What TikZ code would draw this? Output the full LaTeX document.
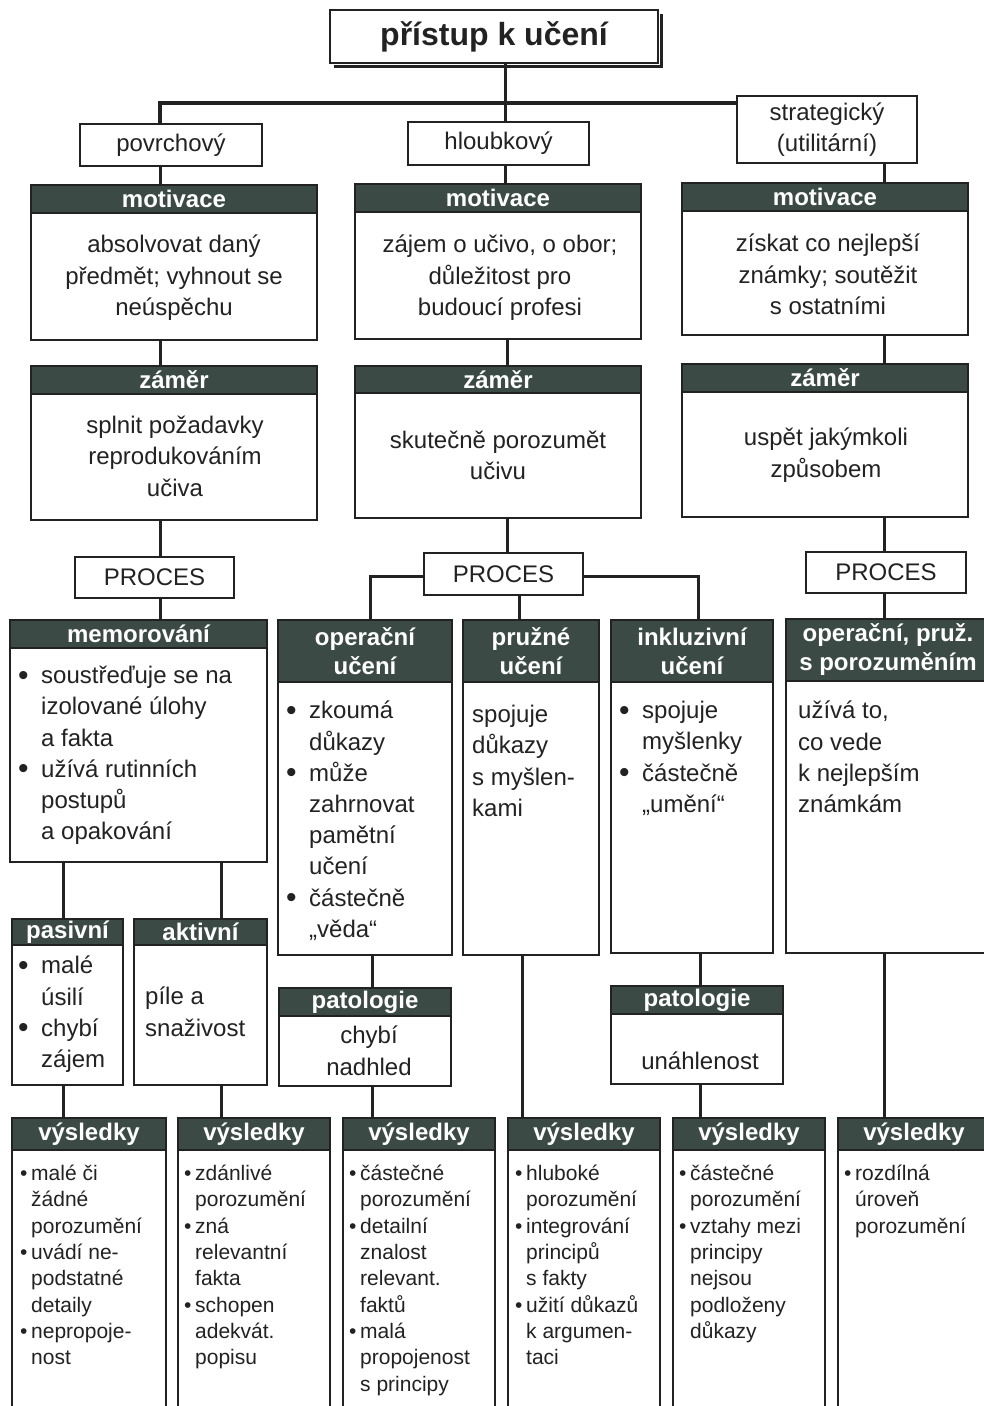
\documentclass[tikz,border=0pt]{standalone}
\usepackage{fontspec}
\setmainfont{Liberation Sans}
\usetikzlibrary{calc}
\definecolor{ink}{HTML}{222222}
\definecolor{hdrc}{HTML}{3B4A45}
\newcommand{\bulx}{\makebox[23pt][l]{\raisebox{-1.5pt}{\fontsize{30}{31}\selectfont\textbullet}}}
\newcommand{\indx}{\hspace*{23pt}}
\newcommand{\sbulx}{\makebox[11pt][l]{\textbullet}}
\newcommand{\sindx}{\hspace*{11pt}}
\begin{document}
\begin{tikzpicture}[x=1pt,y=-1pt,
  every node/.style={text=ink},
  R/.style args={#1/#2/#3/#4}{minimum width={#3-#1}, minimum height={#4-#2}, at={({(#1+#3)/2},{(#2+#4)/2})}},
  box/.style={draw=ink, line width=1.6pt, fill=white, inner sep=0pt},
  hdr/.style={draw=ink, line width=1.6pt, fill=hdrc, text=white, inner sep=0pt, font=\fontsize{24}{29}\selectfont\bfseries, align=center},
  lab/.style={draw=ink, line width=1.8pt, fill=white, inner sep=0pt, font=\fontsize{24}{31}\selectfont, align=center},
  conn/.style={draw=ink, line width=3pt},
  txt/.style={inner sep=0pt, font=\fontsize{24}{31.2}\selectfont, anchor=north, align=center, execute at begin node=\strut},
  ltxt/.style={inner sep=0pt, font=\fontsize{24}{31.2}\selectfont, anchor=north west, align=left, execute at begin node=\strut},
  stxt/.style={inner sep=0pt, font=\fontsize{21}{26.3}\selectfont, anchor=north west, align=left, execute at begin node=\strut}
]
\useasboundingbox (0,0) rectangle (983,1406);
\fill[white] (0,0) rectangle (983,1406);

% ---- column x coordinates
\coordinate (xL) at (160,0);
\coordinate (xM) at (507,0);
\coordinate (xR) at (884,0);
\coordinate (j) at (505,103);
\coordinate (jL) at (160,103);
\coordinate (a1) at (370,576);
\coordinate (a2) at (698,576);
\coordinate (xPr) at (519,0);
\coordinate (x63) at (63,0);
\coordinate (x221) at (221,0);
\coordinate (x372) at (372,0);
\coordinate (x522) at (522,0);
\coordinate (x700) at (700,0);

% ---- title
\draw[ink, line width=3pt] (334,66) -- (661,66) -- (661,14);
\node[lab, line width=2.2pt, font=\fontsize{32}{36}\selectfont\bfseries, R=330/10/658/63] (title) {přístup k učení};

% ---- approach types
\node[lab, R=80/124/262/166] (pov) {povrchový};
\node[lab, R=408/122/589/165] (hlo) {hloubkový};
\node[lab, R=737/96/917/163] (str) {strategický\\(utilitární)};

% ---- motivace
\node[box, R=31/185/317/340] (m1b) {};
\node[hdr, R=31/185/317/213] (m1h) {motivace};
\node[box, R=355/184/641/339] (m2b) {};
\node[hdr, R=355/184/641/212] (m2h) {motivace};
\node[box, R=682/183/968/335] (m3b) {};
\node[hdr, R=682/183/968/211] (m3h) {motivace};
\node[txt] (m1t) at (174,235) {absolvovat daný\\předmět; vyhnout se\\neúspěchu};
\node[txt] (m2t) at (500,235) {zájem o učivo, o obor;\\důležitost pro\\budoucí profesi};
\node[txt] (m3t) at (828,234) {získat co nejlepší\\známky; soutěžit\\s ostatními};

% ---- zamer
\node[box, R=31/366/317/520] (z1b) {};
\node[hdr, R=31/366/317/394] (z1h) {záměr};
\node[box, R=355/366/641/518] (z2b) {};
\node[hdr, R=355/366/641/393] (z2h) {záměr};
\node[box, R=682/364/968/517] (z3b) {};
\node[hdr, R=682/364/968/392] (z3h) {záměr};
\node[txt] (z1t) at (175,416) {splnit požadavky\\reprodukováním\\učiva};
\node[txt] (z2t) at (498,431) {skutečně porozumět\\učivu};
\node[txt] (z3t) at (826,428) {uspět jakýmkoli\\způsobem};

% ---- PROCES
\node[lab, R=75/557/234/598] (pL) {PROCES};
\node[lab, R=424/553/583/595] (pM) {PROCES};
\node[lab, R=806/552/966/593] (pR) {PROCES};

% ---- process boxes
\node[box, R=10/620/267/862] (memb) {};
\node[hdr, R=10/620/267/648] (memh) {memorování};
\node[box, R=278/620/452/955] (opb) {};
\node[hdr, R=278/620/452/682] (oph) {operační\\učení};
\node[box, R=463/620/599/955] (prb) {};
\node[hdr, R=463/620/599/682] (prh) {pružné\\učení};
\node[box, R=611/620/773/953] (inb) {};
\node[hdr, R=611/620/773/682] (inh) {inkluzivní\\učení};
\node[box, R=786/619/990/953] (orb) {};
\node[hdr, R=786/619/990/681] (orh) {operační, pruž.\\s porozuměním};

\node[ltxt] (memt) at (18,666) {\bulx soustřeďuje se na\\\indx izolované úlohy\\\indx a fakta\\\bulx užívá rutinních\\\indx postupů\\\indx a opakování};
\node[ltxt] (opt) at (286,701) {\bulx zkoumá\\\indx důkazy\\\bulx může\\\indx zahrnovat\\\indx pamětní\\\indx učení\\\bulx částečně\\\indx „věda“};
\node[ltxt] (prt) at (472,705) {spojuje\\důkazy\\s myšlen-\\kami};
\node[ltxt] (int) at (619,701) {\bulx spojuje\\\indx myšlenky\\\bulx částečně\\\indx „umění“};
\node[ltxt] (ort) at (798,701) {užívá to,\\co vede\\k nejlepším\\známkám};

% ---- pasivni / aktivni
\node[box, R=12/919/123/1085] (pab) {};
\node[hdr, R=12/919/123/945] (pah) {pasivní};
\node[box, R=134/919/267/1085] (akb) {};
\node[hdr, R=134/919/267/945] (akh) {aktivní};
\node[ltxt] (pat) at (18,956) {\makebox[23pt][l]{\raisebox{-1.5pt}{\fontsize{30}{31}\selectfont\textbullet}}malé\\\hspace*{23pt}úsilí\\\makebox[23pt][l]{\raisebox{-1.5pt}{\fontsize{30}{31}\selectfont\textbullet}}chybí\\\hspace*{23pt}zájem};
\node[ltxt] (akt) at (145,987) {píle a\\snaživost};

% ---- patologie
\node[box, R=279/988/451/1086] (plb) {};
\node[hdr, R=279/988/451/1016] (plh) {patologie};
\node[box, R=611/986/783/1084] (qlb) {};
\node[hdr, R=611/986/783/1014] (qlh) {patologie};
\node[txt] (plt) at (369,1026) {chybí\\nadhled};
\node[txt] (qlt) at (700,1047) {unáhlenost};

% ---- vysledky
\node[box, R=12/1118/166/1412] (v1b) {};
\node[hdr, R=12/1118/166/1150] (v1h) {výsledky};
\node[box, R=178/1118/330/1412] (v2b) {};
\node[hdr, R=178/1118/330/1150] (v2h) {výsledky};
\node[box, R=343/1118/495/1412] (v3b) {};
\node[hdr, R=343/1118/495/1150] (v3h) {výsledky};
\node[box, R=508/1118/660/1412] (v4b) {};
\node[hdr, R=508/1118/660/1150] (v4h) {výsledky};
\node[box, R=673/1118/825/1412] (v5b) {};
\node[hdr, R=673/1118/825/1150] (v5h) {výsledky};
\node[box, R=838/1118/990/1412] (v6b) {};
\node[hdr, R=838/1118/990/1150] (v6h) {výsledky};

\node[stxt] (v1t) at (20,1165) {\sbulx malé či\\\sindx žádné\\\sindx porozumění\\\sbulx uvádí ne-\\\sindx podstatné\\\sindx detaily\\\sbulx nepropoje-\\\sindx nost};
\node[stxt] (v2t) at (184,1165) {\sbulx zdánlivé\\\sindx porozumění\\\sbulx zná\\\sindx relevantní\\\sindx fakta\\\sbulx schopen\\\sindx adekvát.\\\sindx popisu};
\node[stxt] (v3t) at (349,1165) {\sbulx částečné\\\sindx porozumění\\\sbulx detailní\\\sindx znalost\\\sindx relevant.\\\sindx faktů\\\sbulx malá\\\sindx propojenost\\\sindx s principy};
\node[stxt] (v4t) at (515,1165) {\sbulx hluboké\\\sindx porozumění\\\sbulx integrování\\\sindx principů\\\sindx s fakty\\\sbulx užití důkazů\\\sindx k argumen-\\\sindx taci};
\node[stxt] (v5t) at (679,1165) {\sbulx částečné\\\sindx porozumění\\\sbulx vztahy mezi\\\sindx principy\\\sindx nejsou\\\sindx podloženy\\\sindx důkazy};
\node[stxt] (v6t) at (844,1165) {\sbulx rozdílná\\\sindx úroveň\\\sindx porozumění};

% ---- connectors
\draw[conn] (title.south -| j) -- (hlo.north -| j);
\draw[conn, line width=4pt] (pov.north -| jL) -- (jL) -- (str.west |- j);
\draw[conn] (pov.south -| xL) -- (m1h.north -| xL);
\draw[conn] (hlo.south -| j) -- (m2h.north -| j);
\draw[conn] (str.south -| xR) -- (m3h.north -| xR);
\draw[conn] (m1b.south -| xL) -- (z1h.north -| xL);
\draw[conn] (m2b.south -| xM) -- (z2h.north -| xM);
\draw[conn] (m3b.south -| xR) -- (z3h.north -| xR);
\draw[conn] (z1b.south -| xL) -- (pL.north -| xL);
\draw[conn] (z2b.south -| xM) -- (pM.north -| xM);
\draw[conn] (z3b.south -| xR) -- (pR.north -| xR);
\draw[conn] (pL.south -| xL) -- (memh.north -| xL);
\draw[conn] (pM.west |- a1) -- (a1) -- (oph.north -| a1);
\draw[conn] (pM.east |- a2) -- (a2) -- (inh.north -| a2);
\draw[conn] (pM.south -| xPr) -- (prh.north -| xPr);
\draw[conn] (pR.south -| xR) -- (orh.north -| xR);
\draw[conn] (memb.south -| x63) -- (pah.north -| x63);
\draw[conn] (memb.south -| x221) -- (akh.north -| x221);
\draw[conn] (opb.south -| x372) -- (plh.north -| x372);
\draw[conn] (inb.south -| x700) -- (qlh.north -| x700);
\draw[conn] (pab.south -| x63) -- (v1h.north -| x63);
\draw[conn] (akb.south -| x221) -- (v2h.north -| x221);
\draw[conn] (plb.south -| x372) -- (v3h.north -| x372);
\draw[conn] (prb.south -| x522) -- (v4h.north -| x522);
\draw[conn] (qlb.south -| x700) -- (v5h.north -| x700);
\draw[conn] (orb.south -| xR) -- (v6h.north -| xR);
\end{tikzpicture}
\end{document}
